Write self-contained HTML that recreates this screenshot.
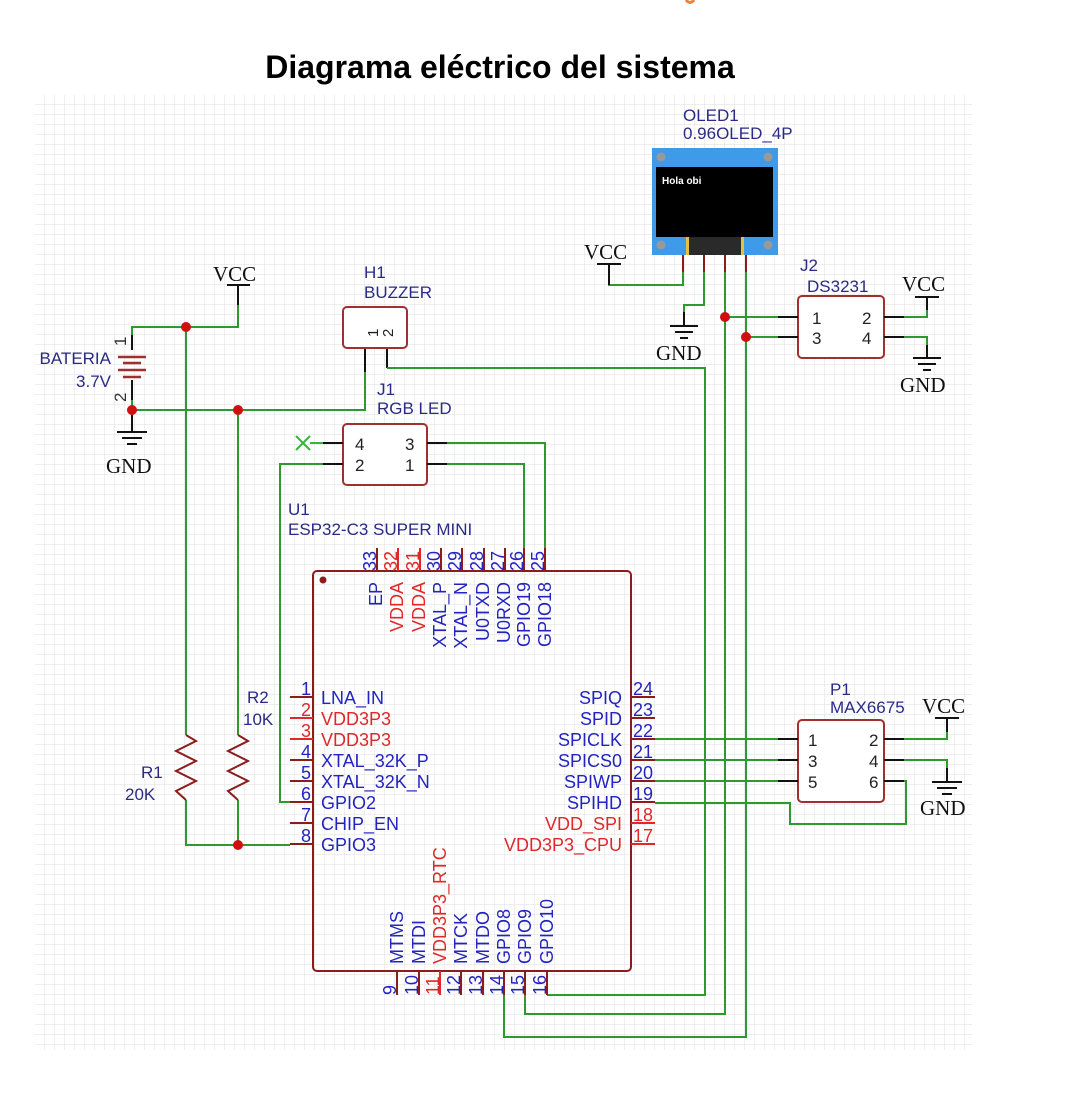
<!DOCTYPE html>
<html><head><meta charset="utf-8"><style>
html,body{margin:0;padding:0;background:#fff;}
svg{display:block;}
.lb{font-family:"Liberation Sans",sans-serif;font-size:17px;fill:#2a2a85;}
.pb{font-family:"Liberation Sans",sans-serif;font-size:18px;fill:#2323c0;}
.pr{font-family:"Liberation Sans",sans-serif;font-size:18px;fill:#e0282a;}
.sf{font-family:"Liberation Serif",serif;font-size:21px;fill:#111;}
.w{stroke:#2e9a2e;stroke-width:2;fill:none;}
.k{stroke:#111;stroke-width:2;fill:none;}
.p{stroke:#8b1c1c;stroke-width:2;fill:none;}
.pR{stroke:#e0282a;stroke-width:2;fill:none;}
</style></head><body>
<svg width="1080" height="1102" viewBox="0 0 1080 1102" xmlns="http://www.w3.org/2000/svg">
<defs><pattern id="g" width="10" height="10" patternUnits="userSpaceOnUse" x="35" y="95"><path d="M10 0V10M0 10H10" stroke="#dddddd" stroke-width="1" fill="none"/></pattern></defs>
<rect x="35" y="95" width="937" height="955" fill="url(#g)"/>
<path d="M686 0 q4 5 8 0" stroke="#f08040" stroke-width="3" fill="none"/>
<text x="500" y="78" text-anchor="middle" style="font-family:'Liberation Sans',sans-serif;font-weight:bold;font-size:32px;fill:#000">Diagrama eléctrico del sistema</text>

<!-- OLED -->
<text class="lb" x="683" y="121">OLED1</text>
<text class="lb" x="683" y="139">0.96OLED_4P</text>
<rect x="652" y="148" width="126" height="107" fill="#3d9be9"/>
<rect x="656" y="167" width="117" height="70" fill="#000"/>
<text x="662" y="184" style="font-family:'Liberation Sans',sans-serif;font-weight:bold;font-size:10px;fill:#fff">Hola obi</text>
<rect x="688" y="237" width="54" height="18" fill="#2a2a2a"/>
<rect x="686" y="237" width="3" height="18" fill="#e8c040"/><rect x="741" y="237" width="3" height="18" fill="#e8c040"/>
<circle cx="661" cy="157" r="4.5" fill="#999"/><circle cx="768" cy="157" r="4.5" fill="#999"/>
<circle cx="661" cy="245" r="4.5" fill="#999"/><circle cx="768" cy="245" r="4.5" fill="#999"/>
<path class="p" d="M683 255V272M704 255V272M725 255V272M746 255V272"/>
<path class="w" d="M683 272V285H609V275M704 272V305H684V325M725 272V1014H525V995M746 272V1037H504V995"/>
<text class="sf" x="584" y="259">VCC</text><path class="k" d="M597 264H621M609 264V285"/>
<path class="k" d="M684 312V326M670 326H698M675 332H693M680 338H688"/><text class="sf" x="656" y="360">GND</text>

<!-- J2 -->
<text class="lb" x="800" y="271">J2</text><text class="lb" x="807" y="292">DS3231</text>
<rect x="798" y="296" width="86" height="62" rx="4" fill="#fff" stroke="#a03030" stroke-width="2"/>
<path class="k" d="M778 317H798M778 337H798M884 317H904M884 337H904"/>
<path class="w" d="M725 317H778M746 337H778M904 317H927V300M904 337H927V355"/>
<text x="812" y="324" style="font-family:'Liberation Sans',sans-serif;font-size:17px;fill:#222">1</text>
<text x="812" y="344" style="font-family:'Liberation Sans',sans-serif;font-size:17px;fill:#222">3</text>
<text x="862" y="324" style="font-family:'Liberation Sans',sans-serif;font-size:17px;fill:#222">2</text>
<text x="862" y="344" style="font-family:'Liberation Sans',sans-serif;font-size:17px;fill:#222">4</text>
<text class="sf" x="902" y="291">VCC</text><path class="k" d="M915 297H939M927 297V310"/>
<path class="k" d="M927 345V358M913 358H941M918 364H936M923 370H931"/><text class="sf" x="900" y="392">GND</text>
<circle cx="725" cy="317" r="5" fill="#d01010"/><circle cx="746" cy="337" r="5" fill="#d01010"/>

<!-- left VCC / battery -->
<text class="sf" x="213" y="281">VCC</text><path class="k" d="M227 285H250M238 285V305"/>
<path class="w" d="M238 305V327H132V335M186 327V735M132 400V410H365V372M238 410V735M186 800V845H290M238 800V845"/>
<path class="k" d="M132 335V350M132 380V400M365 348V372M387 348V368"/>
<path d="M118 357H146M123 363H141M118 370H146M123 377H141" stroke="#a03030" stroke-width="2.5"/>
<text transform="translate(126,346) rotate(-90)" class="lb" style="fill:#333">1</text>
<text transform="translate(126,402) rotate(-90)" class="lb" style="fill:#333">2</text>
<text class="lb" x="111" y="364" text-anchor="end">BATERIA</text><text class="lb" x="111" y="387" text-anchor="end">3.7V</text>
<path class="k" d="M132 410V432M117 432H147M122 438H142M127 444H137"/><text class="sf" x="106" y="473">GND</text>
<circle cx="186" cy="327" r="5" fill="#d01010"/><circle cx="132" cy="410" r="5" fill="#d01010"/>
<circle cx="238" cy="410" r="5" fill="#d01010"/><circle cx="238" cy="845" r="5" fill="#d01010"/>

<!-- buzzer -->
<text class="lb" x="364" y="278">H1</text><text class="lb" x="364" y="298">BUZZER</text>
<rect x="343" y="307" width="64" height="41" rx="4" fill="#fff" stroke="#a03030" stroke-width="2"/>
<text transform="translate(378,337) rotate(-90)" style="font-family:'Liberation Sans',sans-serif;font-size:15px;fill:#222">1</text>
<text transform="translate(393,337) rotate(-90)" style="font-family:'Liberation Sans',sans-serif;font-size:15px;fill:#222">2</text>
<path class="w" d="M387 368H705V995H547"/>

<!-- J1 -->
<text class="lb" x="377" y="395">J1</text><text class="lb" x="377" y="414">RGB LED</text>
<rect x="343" y="424" width="84" height="61" rx="4" fill="#fff" stroke="#a03030" stroke-width="2"/>
<path class="k" d="M323 443H343M323 464H343M427 443H447M427 464H447"/>
<path d="M296 436L310 450M310 436L296 450M310 443H323" stroke="#3cb43c" stroke-width="2"/>
<path class="w" d="M323 464H280V802H290M447 443H545V548M447 464H524V548"/>
<text x="355" y="450" style="font-family:'Liberation Sans',sans-serif;font-size:17px;fill:#222">4</text>
<text x="355" y="471" style="font-family:'Liberation Sans',sans-serif;font-size:17px;fill:#222">2</text>
<text x="405" y="450" style="font-family:'Liberation Sans',sans-serif;font-size:17px;fill:#222">3</text>
<text x="405" y="471" style="font-family:'Liberation Sans',sans-serif;font-size:17px;fill:#222">1</text>

<!-- resistors -->
<path d="M186 735L196 741L176 751L196 761L176 771L196 781L176 791L186 800" stroke="#8b1c1c" stroke-width="2" fill="none"/>
<path d="M238 735L248 741L228 751L248 761L228 771L248 781L228 791L238 800" stroke="#8b1c1c" stroke-width="2" fill="none"/>
<text class="lb" x="141" y="778">R1</text><text class="lb" x="125" y="800">20K</text>
<text class="lb" x="247" y="703">R2</text><text class="lb" x="243" y="725">10K</text>

<!-- U1 -->
<text class="lb" x="288" y="515">U1</text><text class="lb" x="288" y="535">ESP32-C3 SUPER MINI</text>
<rect x="313" y="571" width="318" height="400" rx="4" fill="none" stroke="#8b1c1c" stroke-width="2"/>
<circle cx="323" cy="580" r="3.5" fill="#8b1c1c"/>

<!-- top pins -->
<path class="p" d="M377 548V571M441 548V571M462 548V571M484 548V571M505 548V571M524 548V571M545 548V571"/>
<path class="pR" d="M398 548V571M420 548V571"/>
<g style="font-family:'Liberation Sans',sans-serif;font-size:18px">
<text transform="translate(376,571) rotate(-90)" fill="#2323c0">33</text>
<text transform="translate(397,571) rotate(-90)" fill="#e0282a">32</text>
<text transform="translate(419,571) rotate(-90)" fill="#e0282a">31</text>
<text transform="translate(440,571) rotate(-90)" fill="#2323c0">30</text>
<text transform="translate(461,571) rotate(-90)" fill="#2323c0">29</text>
<text transform="translate(483,571) rotate(-90)" fill="#2323c0">28</text>
<text transform="translate(504,571) rotate(-90)" fill="#2323c0">27</text>
<text transform="translate(523,571) rotate(-90)" fill="#2323c0">26</text>
<text transform="translate(544,571) rotate(-90)" fill="#2323c0">25</text>
</g>
<g text-anchor="end">
<text class="pb" transform="translate(382,582) rotate(-90)">EP</text>
<text class="pr" transform="translate(403,582) rotate(-90)">VDDA</text>
<text class="pr" transform="translate(425,582) rotate(-90)">VDDA</text>
<text class="pb" transform="translate(446,582) rotate(-90)">XTAL_P</text>
<text class="pb" transform="translate(467,582) rotate(-90)">XTAL_N</text>
<text class="pb" transform="translate(489,582) rotate(-90)">U0TXD</text>
<text class="pb" transform="translate(510,582) rotate(-90)">U0RXD</text>
<text class="pb" transform="translate(530,582) rotate(-90)">GPIO19</text>
<text class="pb" transform="translate(551,582) rotate(-90)">GPIO18</text>
</g>

<!-- left pins -->
<path class="p" d="M290 697H313M290 760H313M290 781H313M290 802H313M290 823H313M290 844H313"/>
<path class="pR" d="M290 718H313M290 739H313"/>
<g text-anchor="end" style="font-family:'Liberation Sans',sans-serif;font-size:18px">
<text x="311" y="695" fill="#2323c0">1</text><text x="311" y="716" fill="#e0282a">2</text><text x="311" y="737" fill="#e0282a">3</text>
<text x="311" y="758" fill="#2323c0">4</text><text x="311" y="779" fill="#2323c0">5</text><text x="311" y="800" fill="#2323c0">6</text>
<text x="311" y="821" fill="#2323c0">7</text><text x="311" y="842" fill="#2323c0">8</text>
</g>
<text class="pb" x="321" y="704">LNA_IN</text>
<text class="pr" x="321" y="725">VDD3P3</text>
<text class="pr" x="321" y="746">VDD3P3</text>
<text class="pb" x="321" y="767">XTAL_32K_P</text>
<text class="pb" x="321" y="788">XTAL_32K_N</text>
<text class="pb" x="321" y="809">GPIO2</text>
<text class="pb" x="321" y="830">CHIP_EN</text>
<text class="pb" x="321" y="851">GPIO3</text>

<!-- right pins -->
<path class="p" d="M631 697H655M631 718H655M631 739H655M631 760H655M631 781H655M631 802H655"/>
<path class="pR" d="M631 823H655M631 844H655"/>
<g style="font-family:'Liberation Sans',sans-serif;font-size:18px">
<text x="633" y="695" fill="#2323c0">24</text><text x="633" y="716" fill="#2323c0">23</text><text x="633" y="737" fill="#2323c0">22</text>
<text x="633" y="758" fill="#2323c0">21</text><text x="633" y="779" fill="#2323c0">20</text><text x="633" y="800" fill="#2323c0">19</text>
<text x="633" y="821" fill="#e0282a">18</text><text x="633" y="842" fill="#e0282a">17</text>
</g>
<g text-anchor="end">
<text class="pb" x="622" y="704">SPIQ</text><text class="pb" x="622" y="725">SPID</text>
<text class="pb" x="622" y="746">SPICLK</text><text class="pb" x="622" y="767">SPICS0</text>
<text class="pb" x="622" y="788">SPIWP</text><text class="pb" x="622" y="809">SPIHD</text>
<text class="pr" x="622" y="830">VDD_SPI</text><text class="pr" x="622" y="851">VDD3P3_CPU</text>
</g>

<!-- bottom pins -->
<path class="p" d="M397 971V995M419 971V995M461 971V995M483 971V995M504 971V995M525 971V995M547 971V995"/>
<path class="pR" d="M440 971V995"/>
<g style="font-family:'Liberation Sans',sans-serif;font-size:18px">
<text transform="translate(396,995) rotate(-90)" fill="#2323c0">9</text>
<text transform="translate(418,995) rotate(-90)" fill="#2323c0">10</text>
<text transform="translate(439,995) rotate(-90)" fill="#e0282a">11</text>
<text transform="translate(460,995) rotate(-90)" fill="#2323c0">12</text>
<text transform="translate(482,995) rotate(-90)" fill="#2323c0">13</text>
<text transform="translate(503,995) rotate(-90)" fill="#2323c0">14</text>
<text transform="translate(524,995) rotate(-90)" fill="#2323c0">15</text>
<text transform="translate(546,995) rotate(-90)" fill="#2323c0">16</text>
</g>
<g text-anchor="start">
<text class="pb" transform="translate(403,964) rotate(-90)">MTMS</text>
<text class="pb" transform="translate(425,964) rotate(-90)">MTDI</text>
<text class="pr" transform="translate(446,964) rotate(-90)">VDD3P3_RTC</text>
<text class="pb" transform="translate(467,964) rotate(-90)">MTCK</text>
<text class="pb" transform="translate(489,964) rotate(-90)">MTDO</text>
<text class="pb" transform="translate(510,964) rotate(-90)">GPIO8</text>
<text class="pb" transform="translate(531,964) rotate(-90)">GPIO9</text>
<text class="pb" transform="translate(553,964) rotate(-90)">GPIO10</text>
</g>

<!-- P1 -->
<text class="lb" x="830" y="695">P1</text><text class="lb" x="830" y="713">MAX6675</text>
<rect x="798" y="720" width="86" height="82" rx="4" fill="#fff" stroke="#a03030" stroke-width="2"/>
<path class="k" d="M778 739H798M778 760H798M778 781H798M884 739H904M884 760H904M884 781H904"/>
<path class="w" d="M655 739H778M655 760H778M655 781H778M655 803H790V824H906V781H904M904 739H947V725M904 760H947V775"/>
<g style="font-family:'Liberation Sans',sans-serif;font-size:17px;fill:#222">
<text x="808" y="746">1</text><text x="808" y="767">3</text><text x="808" y="788">5</text>
<text x="869" y="746">2</text><text x="869" y="767">4</text><text x="869" y="788">6</text>
</g>
<text class="sf" x="922" y="713">VCC</text><path class="k" d="M935 718H959M947 718V732"/>
<path class="k" d="M947 768V782M932 782H962M937 788H957M942 794H952"/><text class="sf" x="920" y="815">GND</text>
</svg>
</body></html>
